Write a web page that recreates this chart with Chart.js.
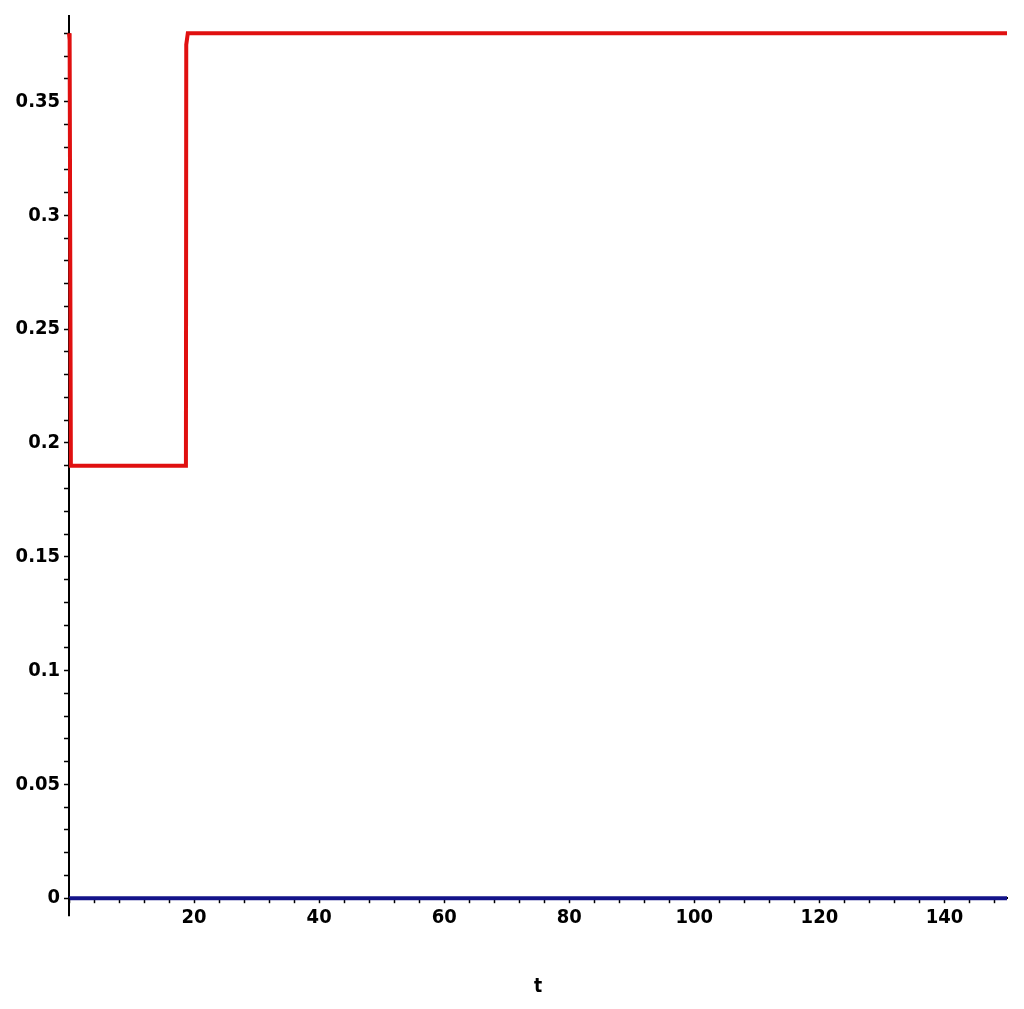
<!DOCTYPE html>
<html>
<head>
<meta charset="utf-8">
<title>t plot</title>
<script src="https://cdn.jsdelivr.net/npm/chart.js@4/dist/chart.umd.min.js"></script>
<style>
  html, body { margin: 0; padding: 0; background: #fff; }
  #wrap { width: 1024px; height: 1009px; position: relative; }
</style>
</head>
<body>
<div id="wrap"><canvas id="plot"></canvas></div>
<script>
// red curve: quick drop to 0.19, jump back to 0.38 near t = 18.7
const redT = [0, 0.1, 0.3, 18.7, 18.75, 19.0, 150];
const redY = [0.38, 0.377, 0.19, 0.19, 0.375, 0.38, 0.38];

// blue curve: flat at zero
const blueT = [0, 150];
const blueY = [0, 0];

// tick positions (minor and major) and which ones get labels
const xTicks = [];
for (let v = 0; v <= 148; v += 4) xTicks.push(v);
const yTicks = [];
for (let i = 0; i <= 38; i++) yTicks.push(i / 100);

const xLabels = [20, 40, 60, 80, 100, 120, 140];
const yLabels = ['0', '0.05', '0.1', '0.15', '0.2', '0.25', '0.3', '0.35'];

const toPts = (xs, ys) => xs.map((x, i) => ({ x: x, y: ys[i] }));

Chart.defaults.font.family = "'DejaVu Sans', sans-serif";
// font-stretch rides along in the weight slot of the canvas font string
Chart.defaults.font.weight = 'condensed bold';
Chart.defaults.font.size = 20;
Chart.defaults.color = '#000';

// the vertical axis line runs a little past the horizontal axis
const axisTail = {
  id: 'axisTail',
  afterDraw(chart) {
    const { ctx, chartArea } = chart;
    ctx.save();
    ctx.strokeStyle = '#000';
    ctx.lineWidth = 2;
    ctx.beginPath();
    ctx.moveTo(chartArea.left, chartArea.bottom);
    ctx.lineTo(chartArea.left, chartArea.bottom + 18);
    ctx.stroke();
    ctx.restore();
  }
};

new Chart(document.getElementById('plot').getContext('2d'), {
  type: 'line',
  data: {
    datasets: [
      {
        label: 'blue',
        data: toPts(blueT, blueY),
        borderColor: '#14148a',
        borderWidth: 4,
        pointRadius: 0,
        tension: 0,
        clip: 6
      },
      {
        label: 'red',
        data: toPts(redT, redY),
        borderColor: '#e01010',
        borderWidth: 4,
        pointRadius: 0,
        tension: 0,
        clip: 6
      }
    ]
  },
  options: {
    responsive: true,
    maintainAspectRatio: false,
    animation: false,
    layout: { padding: { top: 15, right: 17, left: 0, bottom: 0 } },
    plugins: {
      legend: { display: false },
      tooltip: { enabled: false }
    },
    scales: {
      x: {
        type: 'linear',
        min: 0,
        max: 150,
        afterBuildTicks: s => { s.ticks = xTicks.map(v => ({ value: v })); },
        ticks: {
          autoSkip: false,
          maxRotation: 0,
          padding: 3,
          callback: v => (xLabels.includes(v) ? String(v) : '')
        },
        grid: {
          drawOnChartArea: false,
          tickLength: 5,
          tickColor: '#000',
          tickWidth: 1.5
        },
        border: { display: true, color: '#000', width: 2 },
        title: {
          display: true,
          text: 't',
          font: { size: 19, weight: 'condensed bold' },
          padding: { top: 42, bottom: 11 }
        }
      },
      y: {
        min: 0,
        max: 0.3876,
        afterBuildTicks: s => { s.ticks = yTicks.map(v => ({ value: v })); },
        afterFit: s => { s.width = 69; },
        ticks: {
          autoSkip: false,
          padding: 4,
          callback: v => {
            const k = Math.round(v * 100);
            return k % 5 === 0 ? yLabels[k / 5] : '';
          }
        },
        grid: {
          drawOnChartArea: false,
          tickLength: 5,
          tickColor: '#000',
          tickWidth: 1.5
        },
        border: { display: true, color: '#000', width: 2 }
      }
    }
  },
  plugins: [axisTail]
});
</script>
</body>
</html>
